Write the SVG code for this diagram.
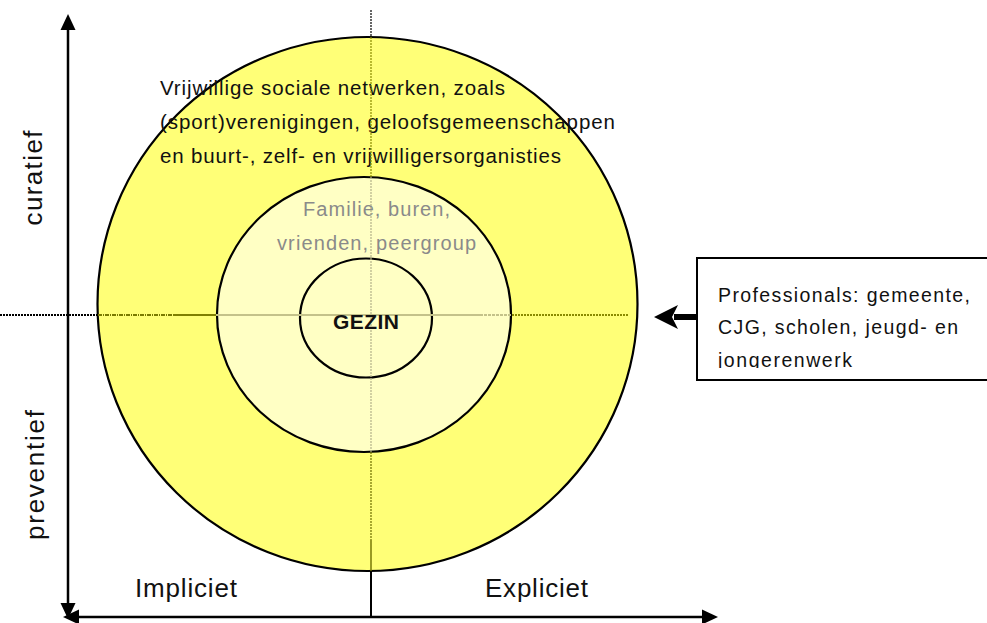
<svg xmlns="http://www.w3.org/2000/svg" width="987" height="623" viewBox="0 0 987 623">
<style>
text{font-family:"Liberation Sans",Arial,sans-serif;}
.ring{stroke:#000;stroke-width:2.2;}
.ax{stroke:#000;stroke-width:2.5;fill:none;}
.head{fill:#000;stroke:none;}
.lbl{font-size:20.5px;fill:#111;}
.grey{font-size:20px;fill:#8a8a8a;}
.box{font-size:19.5px;fill:#111;}
.big{font-size:26px;fill:#111;}
</style>
<defs>
<clipPath id="boxclip"><rect x="697" y="258" width="300" height="110"/></clipPath>
</defs>
<rect width="987" height="623" fill="#fff"/>
<g id="outer">
<ellipse class="ring" cx="367.5" cy="304" rx="270" ry="267" fill="#ffff77"/>
<text class="lbl" x="160" y="95" textLength="345">Vrijwillige sociale netwerken, zoals</text>
<text class="lbl" x="160" y="129" textLength="455">(sport)verenigingen, geloofsgemeenschappen</text>
<text class="lbl" x="160" y="163" textLength="401">en buurt-, zelf- en vrijwilligersorganisties</text>
</g>
<g id="middle">
<ellipse class="ring" cx="364" cy="314.5" rx="147" ry="137.5" fill="#ffffc4"/>
<text class="grey" x="303" y="216" textLength="147">Familie, buren,</text>
<text class="grey" x="277" y="250" textLength="199">vrienden, peergroup</text>
</g>
<g id="gezin">
<ellipse class="ring" cx="366" cy="318" rx="66" ry="59.5" fill="none"/>
</g>
<g id="connectors">
<line x1="0" y1="315" x2="98" y2="315" stroke="#000" stroke-width="2" stroke-dasharray="2,1"/>
<line x1="98" y1="315" x2="173" y2="315" stroke="#7a7a00" stroke-width="2" stroke-dasharray="4,1,1,1"/>
<line x1="173" y1="315" x2="216" y2="315" stroke="#7f7f00" stroke-width="2"/>
<line x1="216" y1="315" x2="480" y2="315" stroke="#c4c28a" stroke-width="2"/>
<line x1="480" y1="315" x2="512" y2="315" stroke="#c4c28a" stroke-width="2" stroke-dasharray="3,1"/>
<line x1="512" y1="315" x2="628" y2="315" stroke="#8a8a00" stroke-width="2" stroke-dasharray="2,1"/>
<line x1="371" y1="10" x2="371" y2="37" stroke="#000" stroke-width="1.2" stroke-dasharray="2,1"/>
<line x1="371" y1="37" x2="371" y2="177" stroke="#8a8a00" stroke-width="1.2" stroke-dasharray="2,1"/>
<line x1="371" y1="177" x2="371" y2="452" stroke="#b4b28a" stroke-width="1.2" stroke-dasharray="2,1"/>
<line x1="371" y1="452" x2="371" y2="540" stroke="#6e6e00" stroke-width="1.2" stroke-dasharray="2,1"/>
<line x1="371" y1="540" x2="371" y2="571" stroke="#6e6e00" stroke-width="1.4"/>
<line x1="371" y1="571" x2="371" y2="617" stroke="#000" stroke-width="2"/>
<line class="ax" x1="68" y1="28" x2="68" y2="604"/>
<polygon class="head" points="68,14 60.5,30 75.5,30"/>
<polygon class="head" points="68,619 60.5,603 75.5,603"/>
<line class="ax" x1="76" y1="617" x2="704" y2="617"/>
<polygon class="head" points="63,617 79,609.5 79,624.5"/>
<polygon class="head" points="718,617 702,609.5 702,624.5"/>
<line x1="697" y1="317" x2="674" y2="317" stroke="#000" stroke-width="6"/>
<polygon class="head" points="654,317 678,305 672,317 678,329"/>
</g>
<g id="gezin-label">
<text x="366" y="329" text-anchor="middle" font-size="21" font-weight="bold" fill="#111" textLength="66">GEZIN</text>
</g>
<g id="professionals">
<rect x="697" y="258" width="310" height="122" fill="#fff" stroke="#000" stroke-width="2"/>
<g clip-path="url(#boxclip)">
<text class="box" x="718" y="302" textLength="252">Professionals: gemeente,</text>
<text class="box" x="718" y="334" textLength="240">CJG, scholen, jeugd- en</text>
<text class="box" x="718" y="367" textLength="134">jongerenwerk</text>
</g>
</g>
<g id="axis-labels">
<text class="big" transform="translate(42,178) rotate(-90)" text-anchor="middle" textLength="95">curatief</text>
<text class="big" transform="translate(44,475) rotate(-90)" text-anchor="middle" textLength="130">preventief</text>
<text class="big" x="135" y="597" textLength="102">Impliciet</text>
<text class="big" x="485" y="597" textLength="103">Expliciet</text>
</g>
</svg>
